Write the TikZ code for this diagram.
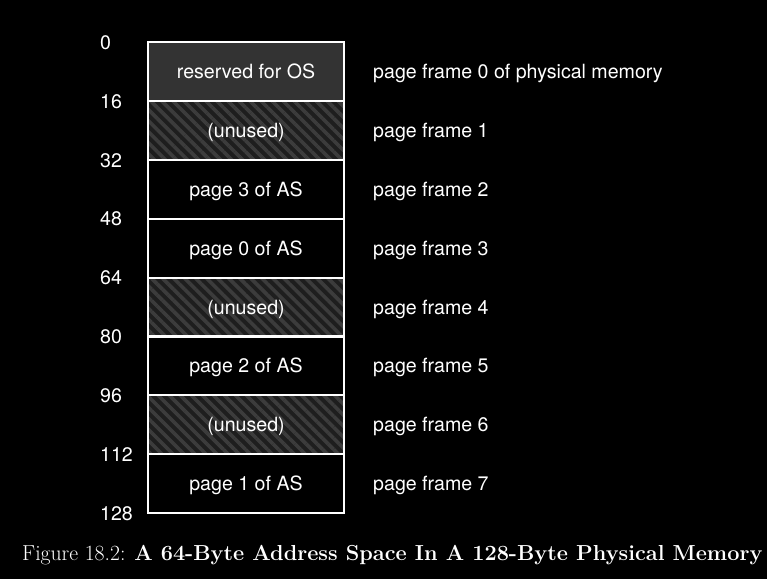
\documentclass[tikz,border=0pt]{standalone}
\usepackage{fontspec}
\setsansfont{TeX Gyre Heros}
\usetikzlibrary{patterns.meta}

\definecolor{osgray}{HTML}{333333}
\definecolor{hatchbg}{HTML}{1E1E1E}
\definecolor{hatchfg}{HTML}{3C3C3C}

\begin{document}
\begin{tikzpicture}[x=1pt,y=-1pt,
  frame/.style={draw=white,line width=2pt,minimum width=196pt,minimum height=59pt,inner sep=0pt,text height=14pt,text depth=0pt,text=white,font=\sffamily\fontsize{19.6}{23}\selectfont},
  reserved/.style={frame,fill=osgray},
  unused/.style={frame,preaction={fill=hatchbg},pattern={Lines[angle=-45,distance=7.8pt,line width=3.6pt]},pattern color=hatchfg},
  addr/.style={anchor=west,inner sep=0pt,text height=14pt,text depth=0pt,text=white,font=\sffamily\fontsize{19.6}{23}\selectfont},
  pframe/.style={anchor=west,inner sep=0pt,text height=14pt,text depth=0pt,text=white,font=\sffamily\fontsize{19.6}{23}\selectfont}]
\fill[black] (0,0) rectangle (767,579);
\useasboundingbox (0,0) rectangle (767,579);
% physical memory, one row per page frame
\node[reserved] (r0) at (246,71.4) {reserved for OS};
\node[unused] (r1) at (246,130.3) {(unused)};
\node[frame] (r2) at (246,189.2) {page 3 of AS};
\node[frame] (r3) at (246,248.1) {page 0 of AS};
\node[unused] (r4) at (246,307.0) {(unused)};
\node[frame] (r5) at (246,365.9) {page 2 of AS};
\node[unused] (r6) at (246,424.8) {(unused)};
\node[frame] (r7) at (246,483.7) {page 1 of AS};
% addresses
\node[addr] (a0) at (100,42) {0};
\node[addr] (a1) at (100,101) {16};
\node[addr] (a2) at (100,160) {32};
\node[addr] (a3) at (100,218.5) {48};
\node[addr] (a4) at (100,277.5) {64};
\node[addr] (a5) at (100,336.5) {80};
\node[addr] (a6) at (100,395.5) {96};
\node[addr] (a7) at (100,454) {112};
\node[addr] (a8) at (100,513) {128};
% page frame labels
\node[pframe] (f0) at (373,71.4) {page frame 0 of physical memory};
\node[pframe] (f1) at (373,130.3) {page frame 1};
\node[pframe] (f2) at (373,189.2) {page frame 2};
\node[pframe] (f3) at (373,248.1) {page frame 3};
\node[pframe] (f4) at (373,307.0) {page frame 4};
\node[pframe] (f5) at (373,365.9) {page frame 5};
\node[pframe] (f6) at (373,424.8) {page frame 6};
\node[pframe] (f7) at (373,483.7) {page frame 7};
% caption
\node[anchor=base west,inner sep=0pt,text=white,font=\fontsize{21.7}{26}\selectfont] (cap) at (22,560) {Figure 18.2: \textbf{A 64-Byte Address Space In A 128-Byte Physical Memory}};
\end{tikzpicture}
\end{document}
